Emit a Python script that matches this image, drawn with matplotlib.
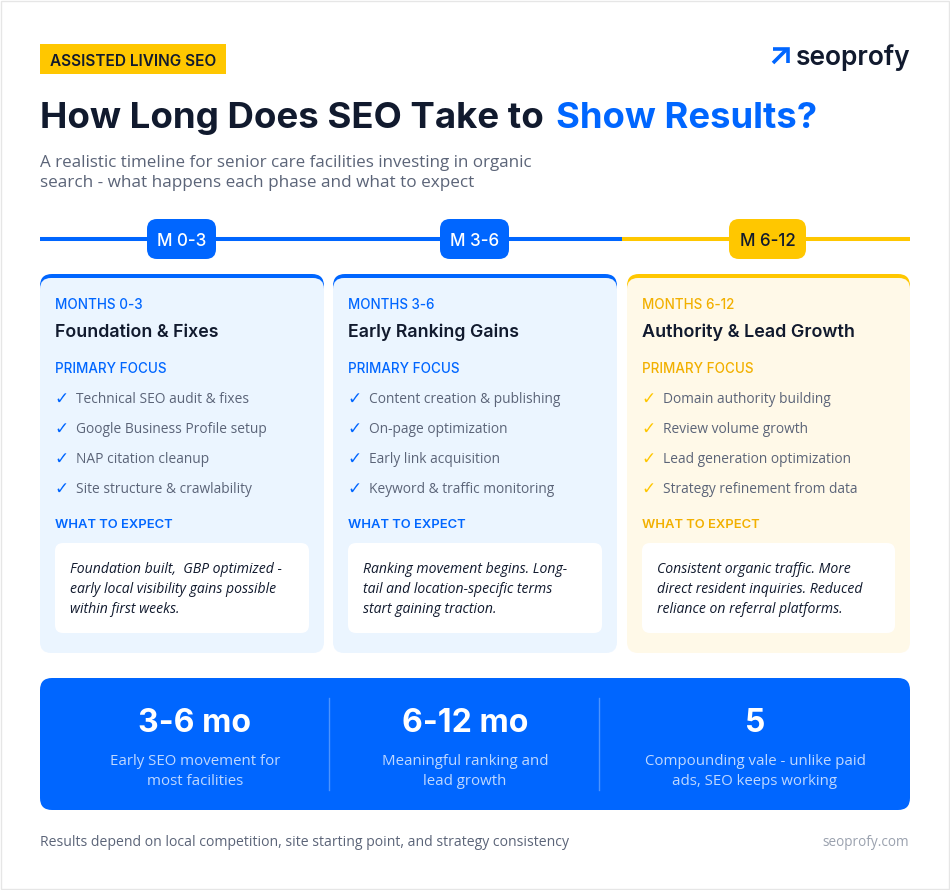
import matplotlib
matplotlib.use("Agg")
import matplotlib.pyplot as plt
from matplotlib.patches import FancyBboxPatch, Rectangle, PathPatch
from matplotlib.path import Path

BLUE = "#0066FF"; GOLD = "#FFC700"; DARK = "#111A2E"; GREY = "#5B6478"; AMBER = "#F2B000"
HEAD = "Inter"; BODY = "Open Sans"

tag = "ASSISTED LIVING SEO"
title_a = "How Long Does SEO Take to"
title_b = "Show Results?"
subtitle = ["A realistic timeline for senior care facilities investing in organic",
            "search - what happens each phase and what to expect"]
badges = ["M 0-3", "M 3-6", "M 6-12"]
months = ["MONTHS 0-3", "MONTHS 3-6", "MONTHS 6-12"]
heads = ["Foundation & Fixes", "Early Ranking Gains", "Authority & Lead Growth"]
focus = [["Technical SEO audit & fixes", "Google Business Profile setup", "NAP citation cleanup", "Site structure & crawlability"],
         ["Content creation & publishing", "On-page optimization", "Early link acquisition", "Keyword & traffic monitoring"],
         ["Domain authority building", "Review volume growth", "Lead generation optimization", "Strategy refinement from data"]]
expect = [["Foundation built,  GBP optimized -", "early local visibility gains possible", "within first weeks."],
          ["Ranking movement begins. Long-", "tail and location-specific terms", "start gaining traction."],
          ["Consistent organic traffic. More", "direct resident inquiries. Reduced", "reliance on referral platforms."]]
stats = ["3-6 mo", "6-12 mo", "5"]
stat_notes = [["Early SEO movement for", "most facilities"], ["Meaningful ranking and", "lead growth"],
              ["Compounding vale - unlike paid", "ads, SEO keeps working"]]
footer = "Results depend on local competition, site starting point, and strategy consistency"
site = "seoprofy.com"
brand = "seoprofy"

fig = plt.figure(figsize=(9.5, 8.9), dpi=100, facecolor="white")
ax = fig.add_axes([0, 0, 1, 1]); ax.set_xlim(0, 950); ax.set_ylim(890, 0); ax.axis("off")
rend = fig.canvas.get_renderer()


def T(x, y, s, px, w=None, color=DARK, font=BODY, weight="normal", ha="left", style="normal"):
    """Text with a size in pixels; w fits it to a measured pixel width."""
    t = ax.text(x, y, s, fontsize=px * 0.72, color=color, family=font, weight=weight, ha=ha, va="center_baseline", style=style)
    if w:
        t.set_fontsize(t.get_fontsize() * w / t.get_window_extent(rend).width)
    return t


def R(x, y, w, h, r, color, z=1, **kw):
    p = FancyBboxPatch((x + r, y + r), w - 2 * r, h - 2 * r, boxstyle=f"round,pad={r},rounding_size={r}",
                       fc=color, ec="none", zorder=z, **kw)
    ax.add_patch(p)
    return p


# frame
ax.add_patch(Rectangle((0.5, 0.5), 948.5, 888.5, fc="white", ec="#E6E6E6", lw=1, zorder=0))

# header
ax.add_patch(Rectangle((40, 44), 186, 30, fc=GOLD, ec="none"))
T(50, 59.5, tag, 15, w=166, font=HEAD, weight="semibold")
T(40, 115, title_a, 38, w=504, font=HEAD, weight="bold")
T(556, 115, title_b, 38, w=261, font=HEAD, weight="bold", color=BLUE)
T(40, 161, subtitle[0], 17, w=491, color=GREY)
T(40, 181, subtitle[1], 17, w=434, color=GREY)

# logo
ax.add_patch(PathPatch(Path([(773, 63), (786, 50)]), ec=BLUE, lw=2.6, fc="none"))
ax.add_patch(PathPatch(Path([(773, 48.5), (787.5, 48.5), (787.5, 63)]), ec=BLUE, lw=2.6, fc="none", joinstyle="miter"))
T(796, 55, brand, 28, w=115, font="Inter", weight="semibold")

# timeline
ax.plot([40, 622], [239, 239], color=BLUE, lw=2.9, solid_capstyle="butt", zorder=1)
ax.plot([622, 910], [239, 239], color=GOLD, lw=2.9, solid_capstyle="butt", zorder=1)

card_x = [40, 333, 627]
card_w = [284, 284, 283]
badge_x = [147, 440, 729]
badge_w = [69, 69, 77]
fills = ["#EBF5FF", "#EBF5FF", "#FFF9E8"]
tops = [BLUE, BLUE, GOLD]
labels = [BLUE, BLUE, AMBER]

for i in range(3):
    x = card_x[i]; w = card_w[i]
    R(badge_x[i], 219, badge_w[i], 40, 10, tops[i], z=3)
    T(badge_x[i] + badge_w[i] / 2, 239.5, badges[i], 17, font=HEAD, weight="medium", ha="center",
      color="white" if i < 2 else DARK)
    # card with coloured top edge
    R(x, 274, w, 379, 12, tops[i], z=2)
    ax.add_patch(Rectangle((x - 1, 290), w + 2, 364, fc="white", ec="none", zorder=2))
    R(x, 278, w, 375, 11, fills[i], z=3)
    tx = x + 15
    T(tx, 303.3, months[i], 14, color=labels[i], font=HEAD, weight="medium", w=[87, 86, 92][i]).set_zorder(5)
    T(tx, 330.3, heads[i], 18, font=HEAD, weight="semibold", w=[163, 170, 213][i]).set_zorder(5)
    T(tx, 367.3, "PRIMARY FOCUS", 14, color=labels[i], font=HEAD, weight="medium", w=111).set_zorder(5)
    for j, item in enumerate(focus[i]):
        yy = 397.3 + 30 * j
        T(tx - 1, yy, "\u2713", 17, color=labels[i] if i < 2 else GOLD, font="DejaVu Sans").set_zorder(5)
        T(tx + 21, yy, item, 13.8, color=GREY).set_zorder(5)
    T(tx, 523, "WHAT TO EXPECT", 14, color=labels[i], font=HEAD, weight="semibold", w=118).set_zorder(5)
    R(tx, 543, w - 30, 90, 8, "white", z=4)
    for j, line in enumerate(expect[i]):
        T(tx + 15, 567.3 + 20 * j, line, 14, style="italic", color=DARK).set_zorder(5)

# stats band
R(40, 678, 870, 132, 12, BLUE, z=2)
centers = [195, 465, 755]
for x in [329, 599]:
    ax.plot([x, x], [698, 790], color="#FFFFFF", alpha=0.3, lw=1, zorder=3)
for c, s, n in zip(centers, stats, stat_notes):
    T(c, 720, s, 32, font=HEAD, weight="bold", color="white", ha="center").set_zorder(5)
    T(c, 759.5, n[0], 15, color="#BFD8FF", ha="center").set_zorder(5)
    T(c, 779.5, n[1], 15, color="#BFD8FF", ha="center").set_zorder(5)

# footer
T(40, 840, footer, 14, w=530, color=GREY)
T(909, 840, site, 14, w=87, color="#9AA1AE", ha="right")

fig.savefig("out.png", dpi=100, facecolor="white")
